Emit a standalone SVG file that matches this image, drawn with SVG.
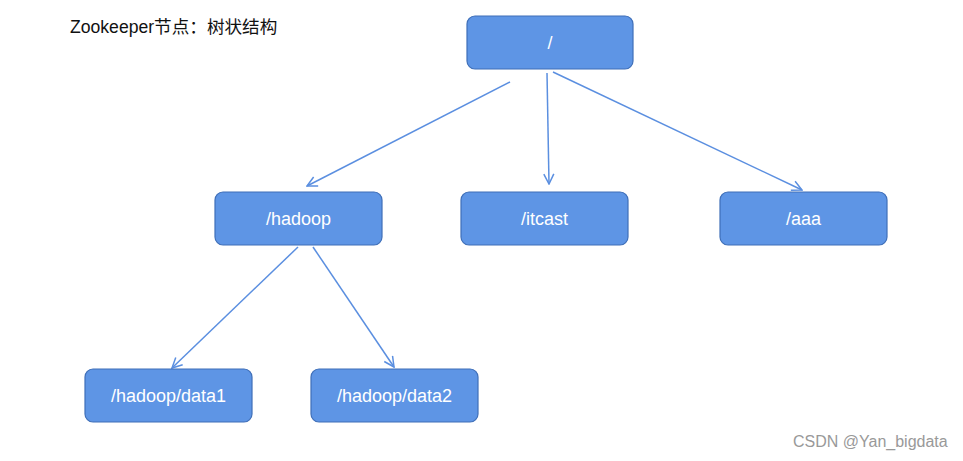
<svg xmlns="http://www.w3.org/2000/svg" width="963" height="461" viewBox="0 0 963 461">
<style>
.node rect{fill:#5E95E5;stroke:#3F6FB8;stroke-width:1.2}
.node text{fill:#fff;font-family:"Liberation Sans","Noto Sans CJK SC",sans-serif;font-size:18px;text-anchor:middle}
.edge{stroke:#5B8FE0;stroke-width:1.5;fill:none;marker-end:url(#arr)}
.title{font-family:"Liberation Sans","Noto Sans CJK SC",sans-serif;font-size:17.6px;fill:#111}
.wm{font-family:"Liberation Sans","Noto Sans CJK SC",sans-serif;font-size:16px;fill:#999}
</style>
<defs>
<marker id="arr" viewBox="0 0 12 12" refX="11" refY="6" markerWidth="12" markerHeight="12" markerUnits="userSpaceOnUse" orient="auto">
<path d="M1,1 L11,6 L1,11" fill="none" stroke="#5B8FE0" stroke-width="1.5"/>
</marker>
</defs>
<rect width="963" height="461" fill="#fff"/>
<text class="title" x="70" y="33">Zookeeper节点：树状结构</text>
<g id="connectors">
<line class="edge" x1="510" y1="82" x2="307" y2="186"/>
<line class="edge" x1="547" y1="73" x2="549" y2="184"/>
<line class="edge" x1="553" y1="72" x2="802" y2="190"/>
<line class="edge" x1="298" y1="247" x2="172" y2="368"/>
<line class="edge" x1="313" y1="247" x2="394" y2="367"/>
</g>
<g id="root" class="node"><rect x="467" y="16" width="166" height="53" rx="8"/><text x="550" y="49">/</text></g>
<g id="hadoop" class="node"><rect x="215" y="192" width="167" height="53" rx="8"/><text x="298.5" y="225">/hadoop</text></g>
<g id="itcast" class="node"><rect x="461" y="192" width="167" height="53" rx="8"/><text x="544.5" y="225">/itcast</text></g>
<g id="aaa" class="node"><rect x="720" y="192" width="167" height="53" rx="8"/><text x="803.5" y="225">/aaa</text></g>
<g id="data1" class="node"><rect x="85" y="369" width="167" height="53" rx="8"/><text x="168.5" y="402">/hadoop/data1</text></g>
<g id="data2" class="node"><rect x="311" y="369" width="167" height="53" rx="8"/><text x="394.5" y="402">/hadoop/data2</text></g>
<text class="wm" x="793" y="447">CSDN @Yan_bigdata</text>
</svg>
